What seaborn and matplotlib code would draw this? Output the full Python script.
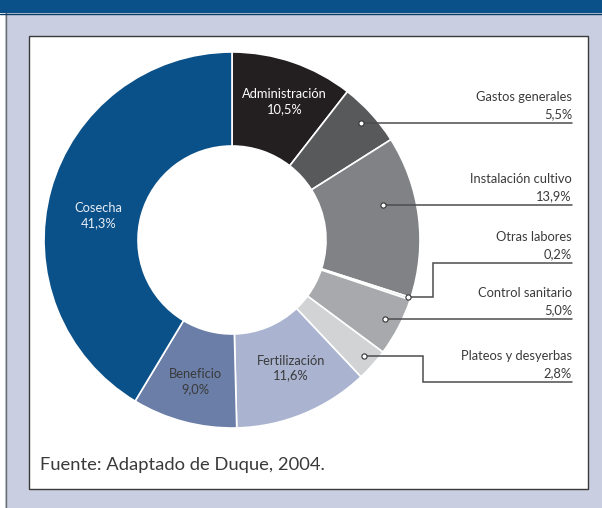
import matplotlib
matplotlib.use("Agg")
import matplotlib.pyplot as plt
from matplotlib.patches import Rectangle
import numpy as np
import seaborn as sns

# data (percent of cost), clockwise from the top
categories = ["Administración", "Gastos generales", "Instalación cultivo", "Otras labores",
              "Control sanitario", "Plateos y desyerbas", "Fertilización", "Beneficio", "Cosecha"]
values = [10.5, 5.5, 13.9, 0.2, 5.0, 2.8, 11.6, 9.0, 41.3]
value_labels = ["10,5%", "5,5%", "13,9%", "0,2%", "5,0%", "2,8%", "11,6%", "9,0%", "41,3%"]
colors = ["#231f20", "#58595b", "#808285", "#d8d9da", "#a7a9ac", "#d1d3d4",
          "#aab4d0", "#6a7ea8", "#0b5189"]
source = "Fuente: Adaptado de Duque, 2004."

sns.set_theme(style="white")
plt.rcParams['font.family'] = ['Lato', 'DejaVu Sans']

W, H = 602, 508
fig = plt.figure(figsize=(W / 100, H / 100), dpi=100, facecolor="#c9cee0")
ax = fig.add_axes([0, 0, 1, 1])


def px(x, y):
  # picture pixel coords -> data coords
  return x, H - y


cx, cy = px(232, 240)
R = 188

# frame decoration
ax.add_patch(Rectangle((0, 0), 5, H, facecolor="white", edgecolor="none", zorder=0))
ax.plot([5.5, 5.5], [0, H - 13], color="#6d6e71", lw=1, zorder=1)
ax.add_patch(Rectangle((0, H - 13), W, 13, facecolor="#0b5189", edgecolor="none", zorder=1))
ax.plot([0, W], [H - 13.5, H - 13.5], color="#083b63", lw=1, zorder=2)
ax.add_patch(Rectangle(px(29, 489), 559, 453, facecolor="white", edgecolor="#3a3a3a", lw=1, zorder=1))

wedges, _ = ax.pie(values, colors=colors, startangle=90, counterclock=False,
                   radius=R, center=(cx, cy),
                   wedgeprops=dict(width=R * 0.5, edgecolor="white", linewidth=1.2))
for w in wedges:
  w.set_zorder(3)

cum = np.concatenate([[0], np.cumsum(values)]) / 100.0


def point(i, frac, r):
  f = cum[i] + frac * (cum[i + 1] - cum[i])
  th = np.deg2rad(90 - 360 * f)
  return cx + r * np.cos(th), cy + r * np.sin(th)


txt = "#3a3a3a"
fs = 9.3

# labels inside the ring
inside = {0: ("white", 0.55, 148), 8: ("#e8edf5", 0.47, 136), 7: (txt, 0.5, 146), 6: (txt, 0.45, 141)}
for i, (col, frac, r) in inside.items():
  x, y = point(i, frac, r)
  ax.text(x, y, f"{categories[i]}\n{value_labels[i]}", ha="center", va="center",
          fontsize=fs, color=col, linespacing=1.3, zorder=5)

# labels outside, with leader lines
x_end = 572
outside = {
  1: (0.5, 174, None, None),
  2: (0.39, 155, None, None),
  3: (0.5, 185, 433, 263),
  4: (0.5, 172, None, None),
  5: (0.5, 176, 423, 382),
}
for i, (frac, r, xb, yl) in outside.items():
  x0, y0 = point(i, frac, r)
  if xb is None:
    xs, ys = [x0, x_end], [y0, y0]
    ly = y0
  else:
    ly = H - yl
    xs, ys = [x0, xb, xb, x_end], [y0, y0, ly, ly]
  ax.plot(xs, ys, color="#4d4d4f", lw=1.1, zorder=4, solid_joinstyle="miter")
  ax.scatter([x0], [y0], s=14, facecolor="white", edgecolor="#333333", linewidth=0.8, zorder=6)
  ax.text(x_end, ly + 9, value_labels[i], ha="right", va="center", fontsize=fs, color=txt)
  ax.text(x_end, ly + 26, categories[i], ha="right", va="center", fontsize=fs, color=txt)

ax.text(*px(40, 465), source, ha="left", va="center", fontsize=13.2, color=txt)

ax.set_xlim(0, W)
ax.set_ylim(0, H)
ax.set_aspect("equal")
ax.axis("off")

fig.savefig("out.png", dpi=100, facecolor=fig.get_facecolor())
